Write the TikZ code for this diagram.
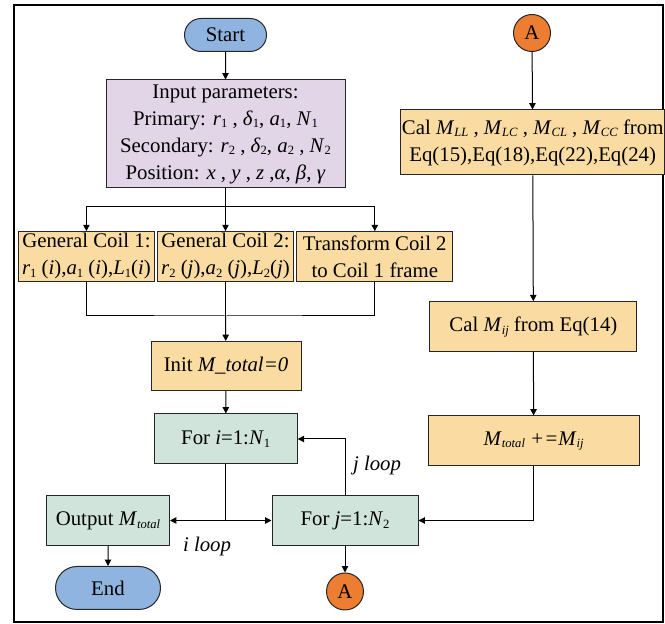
\documentclass[tikz,border=0pt]{standalone}
\usepackage{fontspec}
\setmainfont{Liberation Serif}
\usepackage{tikz}
\usetikzlibrary{arrows.meta,shapes.misc}
\definecolor{termblue}{RGB}{143,180,224}
\definecolor{connorange}{RGB}{237,125,49}
\definecolor{inlav}{RGB}{225,213,231}
\definecolor{procorange}{RGB}{250,220,162}
\definecolor{loopgreen}{RGB}{208,228,219}
\newcommand{\sub}[1]{\raisebox{-0.3ex}{\fontsize{6.3}{7}\selectfont #1}}
\newcommand{\iv}[1]{\textit{#1}}

\begin{document}
\begin{tikzpicture}[x=0.5pt,y=-0.5pt,
  box/.style={draw=black!85, line width=0.5pt, inner sep=0.5pt, align=center,
    font=\fontsize{10.4}{13.5}\selectfont},
  term/.style={box, rounded rectangle, fill=termblue},
  conn/.style={box, circle, fill=connorange, minimum size=18.5pt},
  inbox/.style={box, fill=inlav},
  proc/.style={box, fill=procorange},
  loopbox/.style={box, fill=loopgreen},
  arr/.style={-{Triangle[length=3.2pt,width=3.2pt]}, line width=0.5pt},
  lbl/.style={font=\fontsize{10.4}{13}\selectfont\itshape}]
\useasboundingbox (0,0) rectangle (665,624);
\draw[line width=1pt] (13.6,5) rectangle (663,622.5);

% left column
\node[term, minimum width=42pt, minimum height=16.5pt] (start) at (225.5,35) {Start};
\node[inbox, minimum width=119.5pt, minimum height=54pt] (input) at (225.5,134)
  {Input parameters:\\
   Primary: \iv{r}\sub{1} , \iv{δ}\sub{1}, \iv{a}\sub{1}, \iv{N}\sub{1}\\
   Secondary: \iv{r}\sub{2} , \iv{δ}\sub{2}, \iv{a}\sub{2} , \iv{N}\sub{2}\\
   Position: \iv{x} , \iv{y} , \iv{z} ,\iv{α}, \iv{β}, \iv{γ}};
\node[proc, minimum width=67.7pt, minimum height=24.7pt] (coila) at (86.4,256.4)
  {General Coil 1:\\ \iv{r}\sub{1} (\iv{i}),\iv{a}\sub{1} (\iv{i}),\iv{L}\sub{1}(\iv{i})};
\node[proc, minimum width=68pt, minimum height=24.7pt] (coilb) at (225.5,256.4)
  {General Coil 2:\\ \iv{r}\sub{2} (\iv{j}),\iv{a}\sub{2} (\iv{j}),\iv{L}\sub{2}(\iv{j})};
\node[proc, minimum width=78pt, minimum height=24.7pt] (trans) at (374.8,256.4)
  {Transform Coil 2\\ to Coil 1 frame};
\node[proc, minimum width=75pt, minimum height=24.5pt] (init) at (226,366)
  {Init \iv{M\_total=0}};
\node[loopbox, minimum width=71.5pt, minimum height=25pt] (fori) at (225.7,439)
  {For \iv{i}=1:\iv{N}\sub{1}};
\node[loopbox, minimum width=61.5pt, minimum height=25pt] (out) at (108,520.5)
  {Output \iv{M}\sub{\iv{total}}};
\node[loopbox, minimum width=73pt, minimum height=25pt] (forj) at (345,520.5)
  {For \iv{j}=1:\iv{N}\sub{2}};
\node[term, minimum width=53.5pt, minimum height=21.5pt] (end) at (108,588) {End};
\node[conn] (aout) at (345,591.5) {A};

% right column
\node[conn] (ain) at (532,33) {A};
\node[proc, minimum width=128pt, minimum height=32.5pt] (cal) at (532.7,142.5)
  {Cal \iv{M}\sub{\iv{LL}} , \iv{M}\sub{\iv{LC}} , \iv{M}\sub{\iv{CL}} , \iv{M}\sub{\iv{CC}} from\\
   Eq(15),Eq(18),Eq(22),Eq(24)};
\node[proc, minimum width=103.5pt, minimum height=25pt] (calij) at (533.4,326.7)
  {Cal \iv{M}\sub{\iv{ij}} from Eq(14)};
\node[proc, minimum width=105.5pt, minimum height=25pt] (macc) at (533.6,441)
  {\iv{M}\sub{\iv{total}} \iv{+=M}\sub{\iv{ij}}};

\node[lbl, anchor=west] (jloop) at (346,466) {j loop};
\node[lbl] (iloop) at (207,547) {i loop};

% connectors
\coordinate (split) at (225.5,206.7);
\coordinate (merge) at (225.5,316);
\coordinate (ijoin) at (fori.south |- forj.west);
\draw[arr] (start) -- (input);
\draw[line width=0.5pt] (input) -- (split);
\draw[arr] (split) -| (coila.north);
\draw[arr] (split) -- (coilb);
\draw[arr] (split) -| (trans.north);
\draw[line width=0.5pt] (coila.south) |- (merge) -| (trans.south);
\draw[line width=0.5pt] (coilb) -- (merge);
\draw[arr] (merge) -- (init);
\draw[arr] (init) -- (fori);
\draw[line width=0.5pt] (fori) -- (ijoin);
\draw[arr] (ijoin) -- (out.east);
\draw[arr] (ijoin) -- (forj.west);
\draw[arr] (forj.north) |- (fori.east);
\draw[arr] (forj) -- (aout);
\draw[arr] (out) -- (end);
\draw[arr] (ain) -- (cal);
\draw[arr] (cal) -- (calij);
\draw[arr] (calij) -- (macc);
\draw[arr] (macc.south) |- (forj.east);
\end{tikzpicture}
\end{document}
